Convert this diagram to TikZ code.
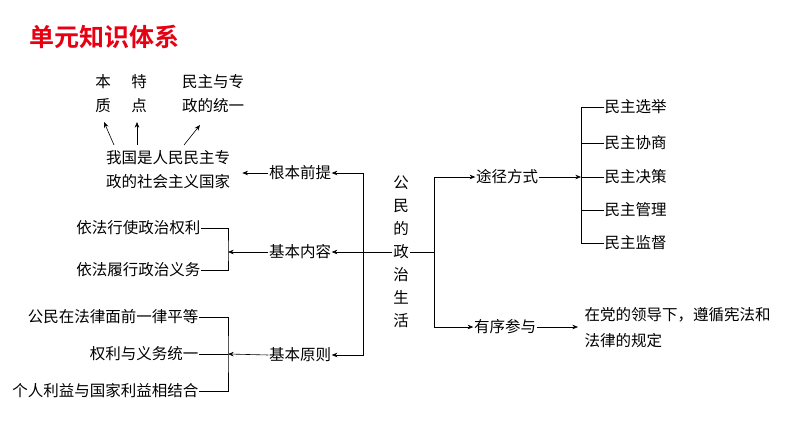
\documentclass[tikz,border=0pt]{standalone}
\usepackage{fontspec}
\setmainfont{Noto Sans CJK SC}
\newfontfamily\titlefont{Noto Sans CJK SC Bold}
\usetikzlibrary{arrows.meta,positioning}
\definecolor{titlered}{RGB}{230,0,18}
\tikzset{
  >={Stealth[length=2mm,width=1.6mm]},
  txt/.style ={inner sep=0.5pt, font=\fontsize{15.5}{24}\selectfont, align=center},
  ltxt/.style={txt, anchor=east},
  rtxt/.style={txt, anchor=west, align=left},
  ln/.style  ={draw, line width=0.6pt}
}
\begin{document}
\begin{tikzpicture}[x=1pt,y=-1pt]
\useasboundingbox (0,0) rectangle (794,447);
\node[anchor=west, text=titlered, font=\titlefont\fontsize{25}{28}\selectfont] (title) at (26,37) {单元知识体系};
% centre
\node[txt, text width=17pt, font=\fontsize{15.5}{23}\selectfont] (core) at (401,252) {公\\民\\的\\政\\治\\生\\活};
% left side
\node[txt] (qt) at (300,173) {根本前提};
\node[txt] (nr) at (300,252) {基本内容};
\node[txt] (yz) at (300,355) {基本原则};
\node[txt] (gj) at (168,170) {我国是人民民主专\\政的社会主义国家};
\node[txt] (bz) at (103,94) {本\\质};
\node[txt] (td) at (139,94) {特\\点};
\node[txt] (ty) at (213,94) {民主与专\\政的统一};
\node[ltxt] (nr1) at (201,228) {依法行使政治权利};
\node[ltxt] (nr2) at (201,270) {依法履行政治义务};
\node[ltxt] (yz1) at (199,317) {公民在法律面前一律平等};
\node[ltxt] (yz2) at (199,354) {权利与义务统一};
\node[ltxt] (yz3) at (199,391) {个人利益与国家利益相结合};
% right side
\node[txt] (tj) at (507,177) {途径方式};
\node[txt] (yx) at (505,327) {有序参与};
\node[rtxt] (fs1) at (604,107) {民主选举};
\node[rtxt] (fs2) at (604,143) {民主协商};
\node[rtxt] (fs3) at (604,177) {民主决策};
\node[rtxt] (fs4) at (604,210) {民主管理};
\node[rtxt] (fs5) at (604,243) {民主监督};
\node[rtxt, font=\fontsize{15.5}{26}\selectfont] (gd) at (584,328) {在党的领导下，遵循宪法和\\法律的规定};
% trunk
\coordinate (lt) at (363,252);
\coordinate (rt) at (434,252);
\coordinate (br) at (581,177);
\draw[ln] (core.west) -- (lt);
\draw[ln,->] (lt) |- (qt.east);
\draw[ln,->] (lt) -- (nr.east);
\draw[ln,->] (lt) |- (yz.east);
\draw[ln] (core.east) -- (rt);
\draw[ln,->] (rt) |- (tj.west);
\draw[ln,->] (rt) |- (yx.west);
% left branches
\draw[ln,->] (qt.west) -- ++(-26,0);
\draw[ln,->] (114,145) -- (104,122);
\draw[ln,->] (137,145) -- (137,122);
\draw[ln,->] (184,145) -- (200,125);
\draw[ln] (nr1.east) -| (228,252) |- (nr2.east);
\draw[ln,->] (nr.west) -- (228,252);
\draw[ln] (yz1.east) -| (228,354) |- (yz3.east);
\draw[ln] (yz2.east) -- (228,354);
\draw[ln,->] (yz.west) -- (228,354);
% right branches
\draw[ln,->] (tj.east) -- (br);
\draw[ln] (fs1.west) -| (br) |- (fs5.west);
\foreach \n in {fs2,fs3,fs4} \draw[ln] (\n.west) -- (br |- \n.west);
\draw[ln,->] (yx.east) -- (578,327);
\end{tikzpicture}
\end{document}
